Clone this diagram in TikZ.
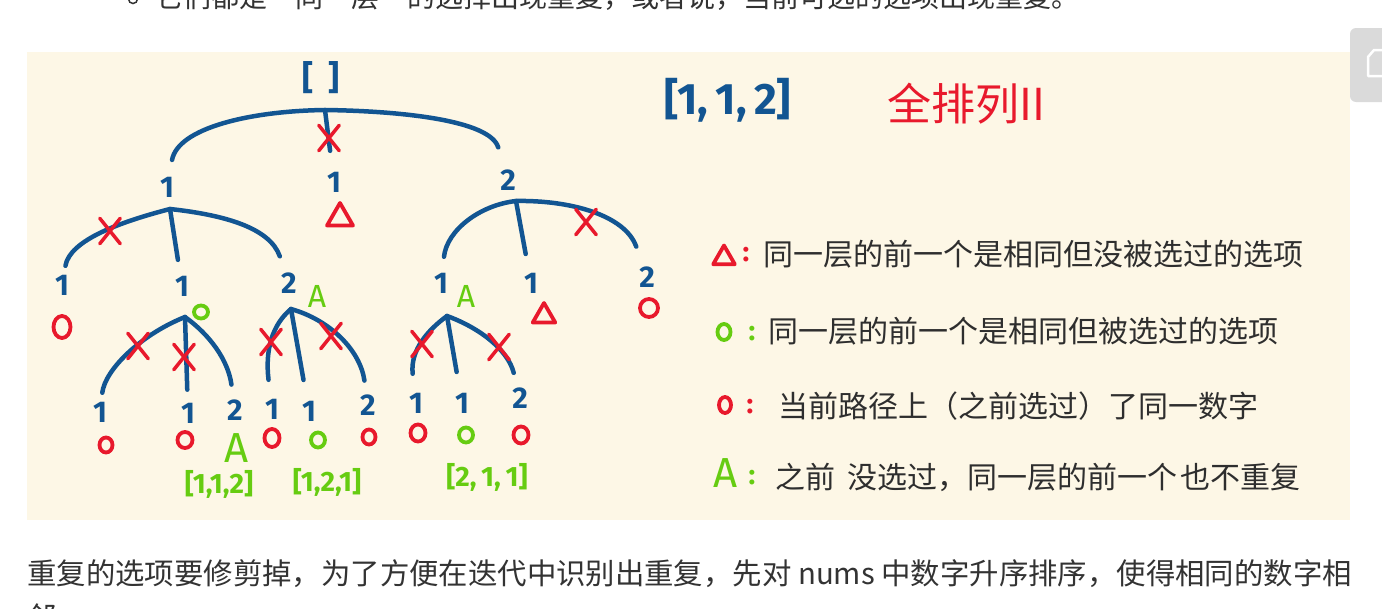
\documentclass[tikz,border=0pt]{standalone}
\usepackage{fontspec}
\usepackage{xcolor}
\usepackage{tikz}
\usetikzlibrary{shapes.geometric, shapes.misc}
\setmainfont{Noto Sans CJK SC}
\newfontfamily\hand{Fira Sans}
\definecolor{treeblue}{HTML}{125592}
\definecolor{cutred}{HTML}{E8192C}
\definecolor{okgreen}{HTML}{66CC11}
\definecolor{notecream}{HTML}{FDF7E6}
\definecolor{inkgray}{HTML}{2E2E2E}
\definecolor{pagegray}{HTML}{333333}
\definecolor{tabgray}{HTML}{DADADA}
\tikzset{
  branch/.style={treeblue, line width=4.5pt, line cap=round},
  num/.style={text=treeblue, font=\fontsize{30}{30}\hand\bfseries, inner sep=1pt},
  cut/.style={draw=cutred, cross out, line width=3.5pt, line cap=round, minimum width=17pt, minimum height=22pt, inner sep=0pt},
  seen/.style={draw=cutred, ellipse, line width=3.8pt, minimum width=17pt, minimum height=22pt, inner sep=0pt},
  seensm/.style={seen, minimum width=13pt, minimum height=15pt},
  used/.style={draw=okgreen, ellipse, line width=3.8pt, minimum width=14pt, minimum height=13pt, inner sep=0pt},
  same/.style={draw=cutred, regular polygon, regular polygon sides=3, line width=3.8pt, line join=round, minimum size=30pt, inner sep=0pt},
  pick/.style={text=okgreen, font=\fontsize{32}{32}\hand, inner sep=0pt},
  perm/.style={text=okgreen, font=\fontsize{28}{28}\hand\bfseries, inner sep=0pt},
  colon/.style={font=\fontsize{28}{28}\hand\bfseries, inner sep=0pt},
  note/.style={text=inkgray, font=\fontsize{30}{30}\selectfont, anchor=west, inner sep=0pt},
  page/.style={text=pagegray, font=\fontsize{29.4}{29.4}\selectfont, anchor=west, inner sep=0pt}
}
\begin{document}
\begin{tikzpicture}[x=1pt, y=-1pt]
  \useasboundingbox (0,0) rectangle (1382,608);
  \clip (0,0) rectangle (1382,608);
  \fill[white] (0,0) rectangle (1382,608);
  \fill[notecream] (27,52) rectangle (1350,520);
  \fill[tabgray, rounded corners=6pt] (1350,28) rectangle (1400,102);
  \draw[white, line width=2.5pt, line join=round] (1390,50) -- (1374,50) -- (1368,57) -- (1368,76) -- (1390,76);

  \node[draw=pagegray, circle, line width=1.5pt, minimum size=9pt, inner sep=0pt] (dot) at (133,-1) {};
  \node[page, font=\fontsize{28}{28}\selectfont] (prev) at (155,-3) {它们都是“同一层”的选择出现重复，或者说，当前可选的选项出现重复。};
  \node[page] (next) at (27,574) {重复的选项要修剪掉，为了方便在迭代中识别出重复，先对 nums 中数字升序排序，使得相同的数字相};
  \node[page] (tail) at (27,617) {邻。};

  \node[num, font=\fontsize{34}{34}\hand\bfseries] (r) at (321,78) {[\;\,]};
  \coordinate (rb) at (325,110);
  \node[num] (a1) at (167,187) {1};
  \node[num] (a2) at (334,182) {1};
  \node[num] (a3) at (508,180) {2};
  \draw[branch, shorten >=16pt] (rb) .. controls (250,111) and (178,128) .. (a1);
  \draw[branch, shorten >=20pt] (rb) -- (a2);
  \draw[branch, shorten >=22pt] (rb) .. controls (400,111) and (490,120) .. (a3);
  \node[cut] (x0) at (329,138) {};
  \node[same] (t0) at (340,218) {};

  \coordinate (a1b) at (170,209);
  \node[num] (b1) at (62,285) {1};
  \node[num] (b2) at (182,286) {1};
  \node[num] (b3) at (289,283) {2};
  \draw[branch, shorten >=8pt] (a1b) .. controls (120,222) and (70,240) .. (b1);
  \draw[branch, shorten >=15pt] (a1b) -- (b2);
  \draw[branch, shorten >=16pt] (a1b) .. controls (225,215) and (270,228) .. (b3);
  \node[cut] (x1) at (110,231) {};
  \node[seen] (o1) at (62,327) {};
  \node[used] (g1) at (201,312) {};
  \node[pick] (p1) at (317,296) {A};

  \coordinate (a3b) at (516,201);
  \node[num] (b4) at (441,283) {1};
  \node[num] (b5) at (531,283) {1};
  \node[num] (b6) at (647,277) {2};
  \draw[branch, shorten >=15pt] (a3b) .. controls (480,205) and (447,230) .. (b4);
  \draw[branch, shorten >=18pt] (a3b) -- (b5);
  \draw[branch, shorten >=20pt] (a3b) .. controls (570,200) and (625,215) .. (b6);
  \node[cut] (x2) at (586,222) {};
  \node[pick] (p2) at (466,296) {A};
  \node[same, minimum size=26pt] (t1) at (544,316) {};
  \node[seen, minimum width=18pt, minimum height=18pt] (o2) at (649,308) {};

  \coordinate (b2b) at (185,317);
  \node[num] (c1) at (100,412) {1};
  \node[num] (c2) at (188,413) {1};
  \node[num] (c3) at (235,410) {2};
  \draw[branch, shorten >=8pt] (b2b) .. controls (140,335) and (105,370) .. (c1);
  \draw[branch, shorten >=12pt] (b2b) -- (c2);
  \draw[branch, shorten >=14pt] (b2b) .. controls (210,335) and (228,360) .. (c3);
  \node[cut] (x3) at (138,346) {};
  \node[cut] (x4) at (184,357) {};
  \node[seensm] (o3) at (106,445) {};
  \node[seen, minimum width=15pt, minimum height=16pt] (o4) at (185,440) {};
  \node[pick, font=\fontsize{42}{42}\hand] (p3) at (237,448) {A};
  \node[perm] (s1) at (219,484) {[1,1,2]};

  \coordinate (b3b) at (291,309);
  \node[num] (c4) at (272,409) {1};
  \node[num] (c5) at (309,411) {1};
  \node[num] (c6) at (368,405) {2};
  \draw[branch, shorten >=18pt] (b3b) .. controls (272,325) and (265,350) .. (c4);
  \draw[branch, shorten >=20pt] (b3b) -- (c5);
  \draw[branch, shorten >=13pt] (b3b) .. controls (330,320) and (360,350) .. (c6);
  \node[cut] (x5) at (271,342) {};
  \node[cut] (x6) at (331,336) {};
  \node[seen, minimum width=15pt, minimum height=18pt] (o5) at (272,438) {};
  \node[used, minimum height=15pt] (g2) at (318,440) {};
  \node[seensm] (o6) at (369,437) {};
  \node[perm] (s2) at (327,482) {[1,2,1]};

  \coordinate (b4b) at (447,316);
  \node[num] (c7) at (416,403) {1};
  \node[num] (c8) at (462,403) {1};
  \node[num] (c9) at (520,398) {2};
  \draw[branch, shorten >=18pt] (b4b) .. controls (428,330) and (410,350) .. (c7);
  \draw[branch, shorten >=20pt] (b4b) -- (c8);
  \draw[branch, shorten >=14pt] (b4b) .. controls (480,328) and (508,350) .. (c9);
  \node[cut] (x7) at (422,344) {};
  \node[cut] (x8) at (499,347) {};
  \node[seen, minimum width=15pt, minimum height=17pt] (o7) at (418,433) {};
  \node[used, minimum height=15pt] (g3) at (466,435) {};
  \node[seen, minimum width=15pt, minimum height=17pt] (o8) at (521,435) {};
  \node[perm] (s3) at (487,477) {[2,\,1,\,1]};

  \node[text=treeblue, font=\fontsize{44}{44}\hand\bfseries] (nums) at (728,100) {[1,\,1,\,2]};
  \node[text=cutred, font=\fontsize{44}{44}\selectfont] (title) at (966,104) {全排列II};

  \node[same, minimum size=25pt] (k1) at (724,258) {};
  \node[colon, text=cutred] (k1c) at (746,255) {:};
  \node[note] (n1) at (763,254) {同一层的前一个是相同但没被选过的选项};
  \node[used, minimum width=13pt, minimum height=16pt] (k2) at (724,332) {};
  \node[colon, text=okgreen] (k2c) at (752,334) {:};
  \node[note] (n2) at (768,331) {同一层的前一个是相同但被选过的选项};
  \node[seen, minimum width=12pt, minimum height=16pt] (k3) at (725,405) {};
  \node[colon, text=cutred] (k3c) at (750,407) {:};
  \node[note] (n3) at (778,406) {当前路径上（之前选过）了同一数字};
  \node[pick, font=\fontsize{42}{42}\hand] (k4) at (726,473) {A};
  \node[colon, text=okgreen] (k4c) at (752,478) {:};
  \node[note] (n4) at (775,477) {之前\hspace{12pt}没选过，同一层的前一个\hspace{3pt}也不重复\hspace{0pt}};
\end{tikzpicture}
\end{document}
